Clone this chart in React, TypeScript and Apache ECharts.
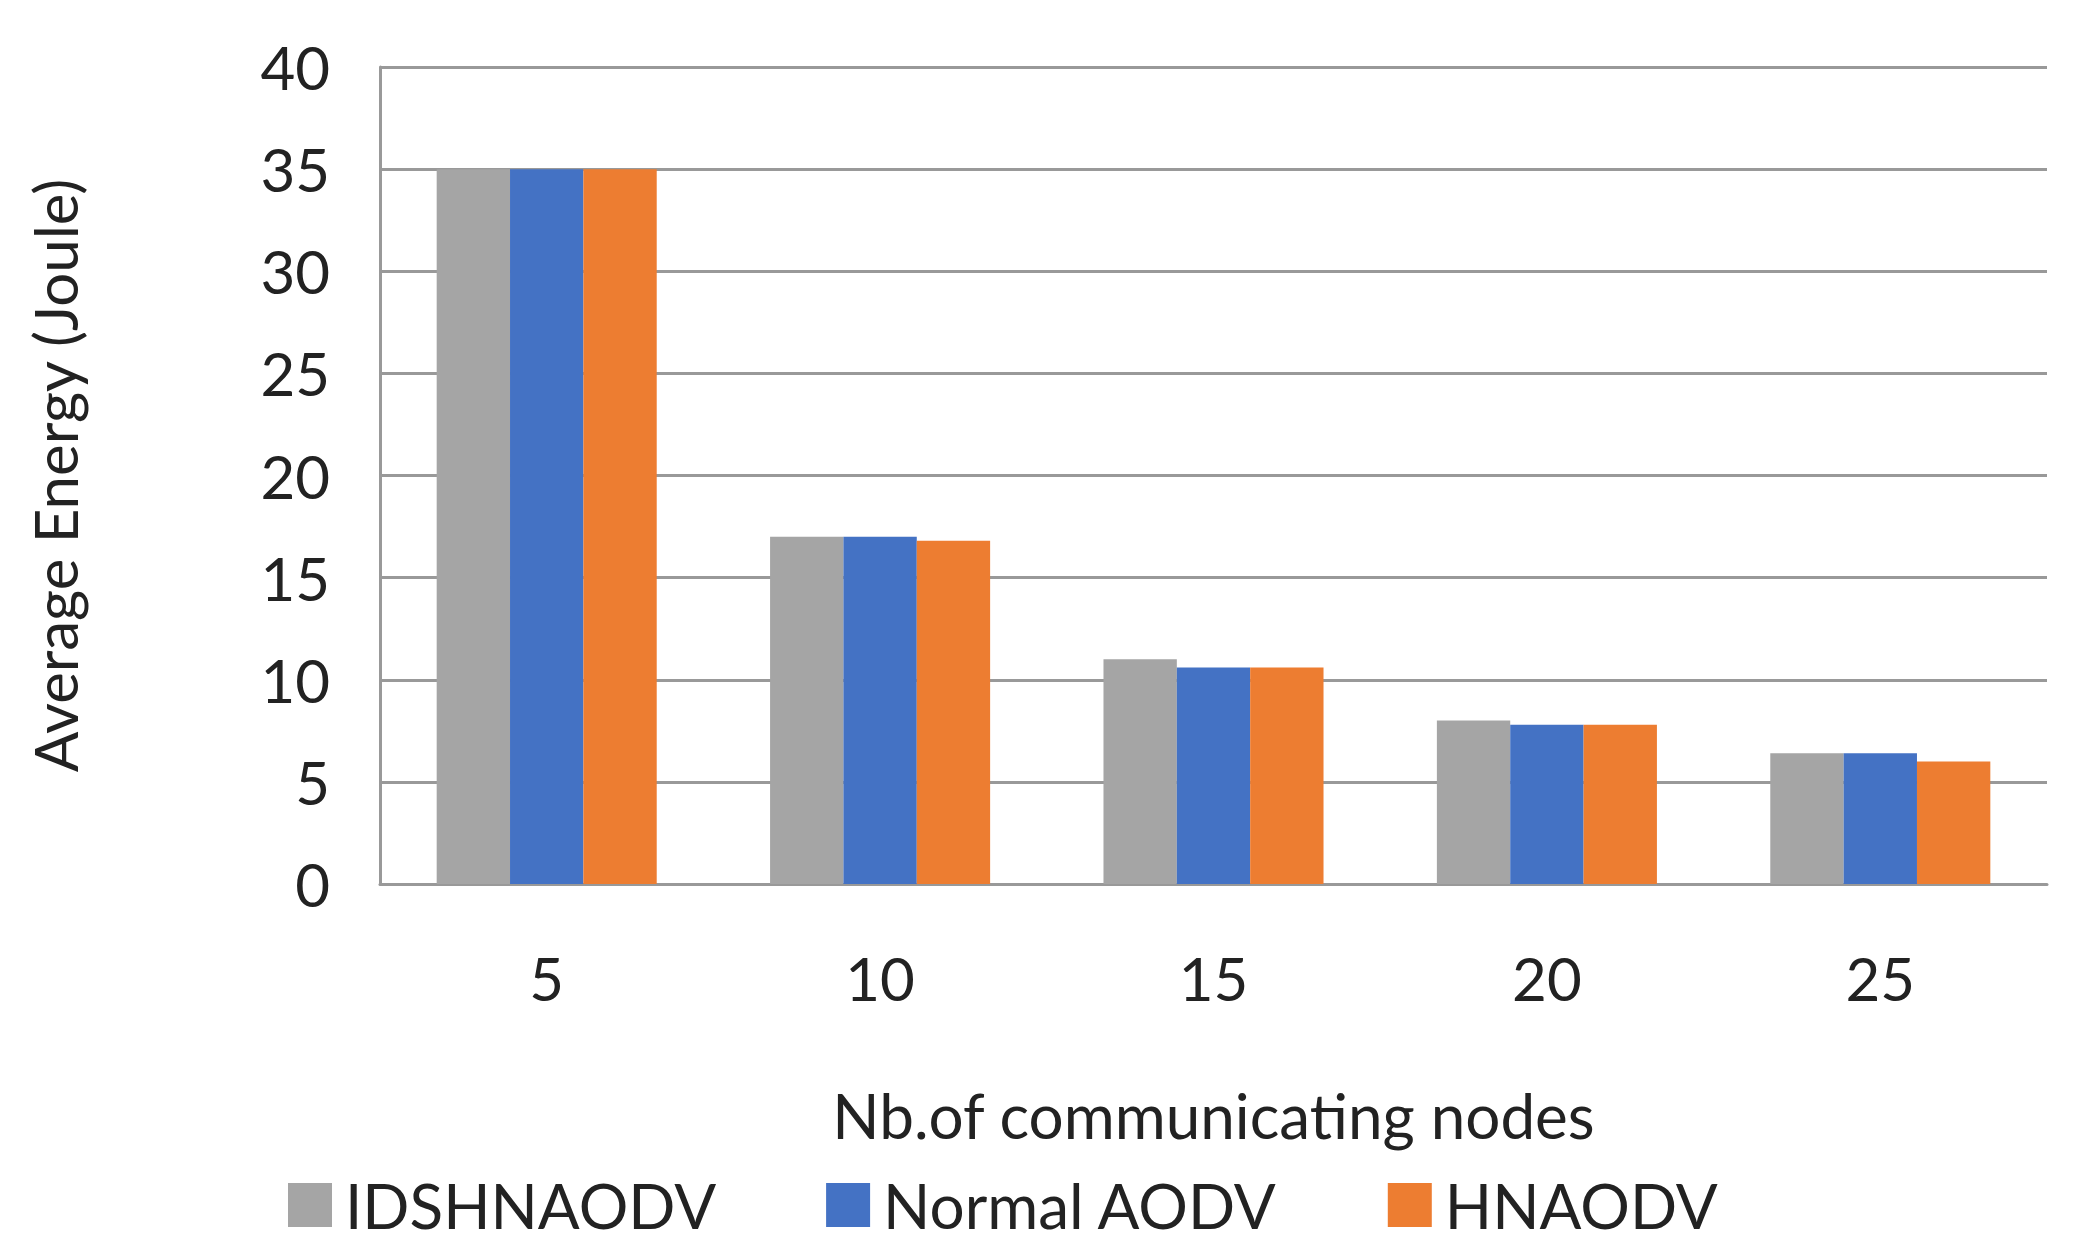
import { useEffect, useRef } from 'react';
import * as echarts from 'echarts';

const categories = ['5', '10', '15', '20', '25'];
const idshnaodv = [35, 17, 11, 8, 6.4];
const normalAodv = [35, 17, 10.6, 7.8, 6.4];
const hnaodv = [35, 16.8, 10.6, 7.8, 6.0];

export default function App() {
    const chartRef = useRef<HTMLDivElement>(null);

    useEffect(() => {
        if (!chartRef.current) return;
        const chart = echarts.init(chartRef.current, undefined, { renderer: 'svg' });
        const font = 'Lato, "Open Sans", sans-serif';
        chart.setOption({
            animation: false,
            textStyle: { fontFamily: font },
            grid: { left: 372, right: 23, top: 59, bottom: 365 },
            legend: {
                bottom: 8,
                left: 275,
                itemGap: 110,
                itemWidth: 44,
                itemHeight: 44,
                icon: 'rect',
                textStyle: { fontSize: 62, color: '#222', fontFamily: font, padding: [0, 0, 0, 8] },
            },
            xAxis: {
                type: 'category',
                data: categories,
                name: 'Nb.of communicating nodes',
                nameLocation: 'middle',
                nameGap: 200,
                nameTextStyle: { fontSize: 62, color: '#222' },
                axisLine: { lineStyle: { color: '#999', width: 3 } },
                axisTick: { show: false },
                axisLabel: { fontSize: 60, color: '#222', margin: 64 },
            },
            yAxis: {
                type: 'value',
                min: 0,
                max: 40,
                interval: 5,
                name: 'Average Energy (Joule)',
                nameLocation: 'middle',
                nameGap: 295,
                nameTextStyle: { fontSize: 60, color: '#222' },
                axisLine: { show: true, lineStyle: { color: '#999', width: 3 } },
                axisLabel: { fontSize: 60, color: '#222', margin: 50 },
                splitLine: { lineStyle: { color: '#999', width: 3 } },
            },
            series: [
                { name: 'IDSHNAODV', type: 'bar', data: idshnaodv, itemStyle: { color: '#a5a5a5' }, barGap: '0%', barCategoryGap: '34%' },
                { name: 'Normal AODV', type: 'bar', data: normalAodv, itemStyle: { color: '#4472c4' } },
                { name: 'HNAODV', type: 'bar', data: hnaodv, itemStyle: { color: '#ed7d31' } },
            ],
        });
        return () => chart.dispose();
    }, []);

    return <div ref={chartRef} style={{ width: '2062px', height: '1241px' }} />;
}
